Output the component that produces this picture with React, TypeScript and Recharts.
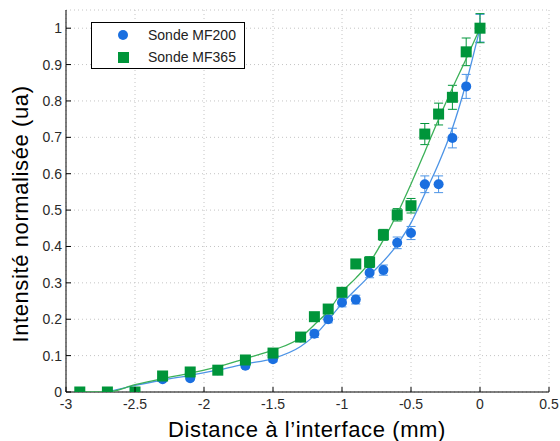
import { CartesianGrid, ComposedChart, ErrorBar, Label, Legend, Scatter, XAxis, YAxis } from "recharts";

// distances (mm) shared by both probes
const distances = [-2.9, -2.7, -2.5, -2.3, -2.1, -1.9, -1.7, -1.5, -1.3, -1.2, -1.1, -1.0, -0.9, -0.8, -0.7, -0.6, -0.5, -0.4, -0.3, -0.2, -0.1, 0];

const mf200 = [0, 0, 0, 0.035, 0.038, 0.06, 0.072, 0.09, 0.15, 0.16, 0.2, 0.246, 0.254, 0.328, 0.335, 0.41, 0.437, 0.571, 0.571, 0.698, 0.84, 1.0];
const mf200Err = [0, 0, 0, 0.003, 0.004, 0.005, 0.006, 0.007, 0.01, 0.01, 0.01, 0.012, 0.012, 0.014, 0.014, 0.016, 0.018, 0.023, 0.023, 0.027, 0.033, 0.038];

const mf365 = [0, 0, 0, 0.044, 0.055, 0.06, 0.088, 0.107, 0.151, 0.207, 0.228, 0.274, 0.352, 0.357, 0.432, 0.487, 0.512, 0.709, 0.764, 0.81, 0.935, 1.0];
const mf365Err = [0, 0, 0, 0.004, 0.005, 0.005, 0.006, 0.008, 0.01, 0.01, 0.01, 0.012, 0.012, 0.015, 0.015, 0.017, 0.02, 0.029, 0.03, 0.033, 0.038, 0.04];

// fitted curves
const fit200X = [-2.7, -2.5, -2.3, -2.1, -1.9, -1.7, -1.5, -1.3, -1.2, -1.0, -0.8, -0.6, -0.5, -0.4, -0.3, -0.2, -0.1, 0];
const fit200Y = [0, 0.018, 0.033, 0.046, 0.06, 0.077, 0.092, 0.125, 0.155, 0.243, 0.32, 0.405, 0.465, 0.545, 0.628, 0.725, 0.85, 1.0];

const fit365X = [-2.9, -2.7, -2.5, -2.3, -2.1, -1.9, -1.7, -1.5, -1.3, -1.2, -1.1, -1.0, -0.9, -0.8, -0.7, -0.6, -0.5, -0.4, -0.3, -0.2, -0.1, 0];
const fit365Y = [0, 0, 0.02, 0.037, 0.052, 0.069, 0.092, 0.115, 0.15, 0.185, 0.222, 0.275, 0.313, 0.356, 0.418, 0.49, 0.572, 0.66, 0.75, 0.835, 0.916, 1.0];

const xTicks = [-3, -2.5, -2, -1.5, -1, -0.5, 0, 0.5];
const yTicks = [0, 0.1, 0.2, 0.3, 0.4, 0.5, 0.6, 0.7, 0.8, 0.9, 1];

const BLUE = "#1a6fe0";
const BLUE_LINE = "#4d94e6";
const GREEN = "#00953a";
const GREEN_LINE = "#3cb158";
const FONT = "'Liberation Sans', Arial, sans-serif";

const pts = (ys: number[], errs: number[]) => distances.map((x, i) => ({ x, y: ys[i], err: errs[i] }));
const curve = (xs: number[], ys: number[]) => xs.map((x, i) => ({ x, y: ys[i] }));

const Dot = (p: any) => <circle cx={p.cx} cy={p.cy} r={5} fill={BLUE} />;
const Square = (p: any) => <rect x={p.cx - 5.5} y={p.cy - 5.5} width={11} height={11} fill={GREEN} />;
const Nothing = () => <g />;

const XTick = (p: any) => (
  <g>
    <line x1={p.x} x2={p.x} y1={p.y} y2={p.y - 5} stroke="#000" />
    <text x={p.x} y={p.y + 17} textAnchor="middle" fontSize={14} fill="#2a2a2a" fontFamily={FONT}>
      {String(p.payload.value)}
    </text>
  </g>
);

const YTick = (p: any) => (
  <g>
    <line x1={p.x} x2={p.x + 5} y1={p.y} y2={p.y} stroke="#000" />
    <text x={p.x - 4} y={p.y + 5} textAnchor="end" fontSize={14} fill="#2a2a2a" fontFamily={FONT}>
      {String(p.payload.value)}
    </text>
  </g>
);

const LegendBox = () => (
  <div
    style={{
      width: 152,
      height: 45,
      border: "1px solid #000",
      background: "#fff",
      fontFamily: FONT,
      fontSize: 14,
      color: "#222",
      position: "relative",
    }}
  >
    {[
      { label: "Sonde MF200", sq: false },
      { label: "Sonde MF365", sq: true },
    ].map((r, i) => (
      <div key={r.label} style={{ position: "absolute", left: 0, top: 3 + i * 22, height: 18, width: 152 }}>
        <span
          style={{
            position: "absolute",
            left: 26,
            top: 4,
            width: r.sq ? 11 : 10,
            height: r.sq ? 11 : 10,
            borderRadius: r.sq ? 0 : "50%",
            background: r.sq ? GREEN : BLUE,
          }}
        />
        <span style={{ position: "absolute", left: 56, top: 0, lineHeight: "18px" }}>{r.label}</span>
      </div>
    ))}
  </div>
);

export default function App() {
  return (
    <div style={{ position: "absolute", left: 0, top: 0, width: 560, height: 441, background: "#fff" }}>
      <ComposedChart width={560} height={441} margin={{ top: 10, right: 11, bottom: 0, left: 10 }}>
        <CartesianGrid stroke="#c4c4c4" strokeDasharray="1 3" />
        <XAxis
          type="number"
          dataKey="x"
          domain={[-3, 0.5]}
          ticks={xTicks}
          height={49}
          tickSize={0}
          tickMargin={0}
          tickLine={false}
          axisLine={{ stroke: "#000" }}
          tick={XTick}
          interval={0}
          allowDataOverflow
        >
          <Label
            content={() => (
              <text x={307} y={437} textAnchor="middle" fontSize={22} letterSpacing={0.6} fill="#000" fontFamily={FONT}>
                Distance à l’interface (mm)
              </text>
            )}
          />
        </XAxis>
        <YAxis
          type="number"
          dataKey="y"
          domain={[0, 1.05]}
          ticks={yTicks}
          width={56}
          tickSize={0}
          tickMargin={0}
          tickLine={false}
          axisLine={{ stroke: "#000" }}
          tick={YTick}
          interval={0}
          allowDataOverflow
        >
          <Label
            content={() => (
              <text
                x={28}
                y={214}
                transform="rotate(-90 28 214)"
                textAnchor="middle"
                fontSize={22}
                letterSpacing={0.6}
                fill="#000"
                fontFamily={FONT}
              >
                Intensité normalisée (ua)
              </text>
            )}
          />
        </YAxis>
        <Legend
          content={LegendBox}
          layout="vertical"
          align="center"
          verticalAlign="middle"
          wrapperStyle={{ left: 91, top: 22, width: 154, height: 47 }}
        />
        <Scatter
          name="fit MF200"
          data={curve(fit200X, fit200Y)}
          shape={Nothing}
          line={{ stroke: BLUE_LINE, strokeWidth: 1.3 }}
          lineJointType="monotoneX"
          isAnimationActive={false}
          legendType="none"
        />
        <Scatter
          name="fit MF365"
          data={curve(fit365X, fit365Y)}
          shape={Nothing}
          line={{ stroke: GREEN_LINE, strokeWidth: 1.3 }}
          lineJointType="monotoneX"
          isAnimationActive={false}
          legendType="none"
        />
        <Scatter name="Sonde MF200" data={pts(mf200, mf200Err)} shape={Dot} isAnimationActive={false}>
          <ErrorBar dataKey="err" direction="y" width={4.5} stroke={BLUE_LINE} strokeWidth={1} isAnimationActive={false} />
        </Scatter>
        <Scatter name="Sonde MF365" data={pts(mf365, mf365Err)} shape={Square} isAnimationActive={false}>
          <ErrorBar dataKey="err" direction="y" width={4.5} stroke={GREEN} strokeWidth={1} isAnimationActive={false} />
        </Scatter>
      </ComposedChart>
    </div>
  );
}
